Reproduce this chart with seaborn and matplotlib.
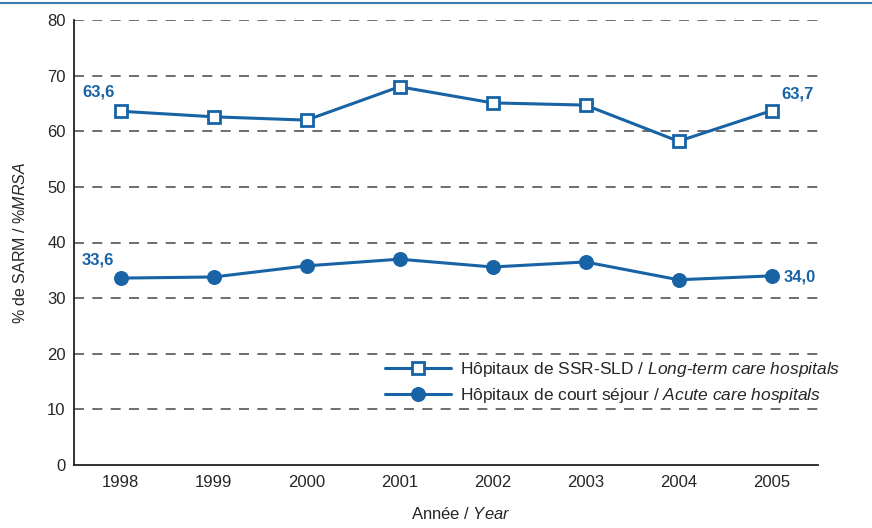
import matplotlib
matplotlib.use("Agg")
import matplotlib.pyplot as plt
import seaborn as sns
import pandas as pd
from matplotlib.lines import Line2D

years = ["1998", "1999", "2000", "2001", "2002", "2003", "2004", "2005"]
long_term = [63.6, 62.6, 62.0, 68.0, 65.1, 64.7, 58.2, 63.7]
acute = [33.6, 33.8, 35.8, 37.0, 35.6, 36.5, 33.3, 34.0]
yticks = [0, 10, 20, 30, 40, 50, 60, 70, 80]

sns.set_theme(style="white")
FONT = ["Liberation Sans", "DejaVu Sans"]
plt.rcParams["font.family"] = FONT
plt.rcParams["mathtext.fontset"] = "custom"
plt.rcParams["mathtext.it"] = "Liberation Sans:italic"
plt.rcParams["mathtext.rm"] = "Liberation Sans"

BLUE = "#1763a6"
FS = 12

fig = plt.figure(figsize=(8.72, 5.28), dpi=100)
ax = fig.add_axes([74/872, 1-465/528, 744/872, 445/528])

df1 = pd.DataFrame({"year": years, "val": long_term})
df2 = pd.DataFrame({"year": years, "val": acute})

sns.lineplot(data=df1, x="year", y="val", ax=ax, color=BLUE, lw=2.2,
             marker="s", markersize=9, markerfacecolor="white",
             markeredgecolor=BLUE, markeredgewidth=2.0,
             label=r"Hôpitaux de SSR-SLD / $\mathit{Long‐term\ care\ hospitals}$")
sns.lineplot(data=df2, x="year", y="val", ax=ax, color=BLUE, lw=2.2,
             marker="o", markersize=10, markerfacecolor=BLUE,
             markeredgecolor=BLUE,
             label=r"Hôpitaux de court séjour / $\mathit{Acute\ care\ hospitals}$")

ax.set_xlim(-0.5, len(years) - 0.5)
ax.set_ylim(0, 80)
ax.set_yticks(yticks)
ax.set_yticklabels([str(t) for t in yticks], fontsize=FS)
ax.set_xticks(range(len(years)))
ax.set_xticklabels(years, fontsize=FS)
ax.set_xticks([i + 0.5 for i in range(len(years) - 1)], minor=True)
ax.tick_params(axis="x", which="major", length=0, pad=7)
ax.tick_params(axis="x", which="minor", direction="in", length=7, width=1, color="#222222")
ax.tick_params(axis="y", length=0, pad=6)

for t in yticks[1:]:
    ax.axhline(t, color="#555555", lw=1.2, ls=(0, (6, 5)), zorder=0)

for s in ["top", "right"]:
    ax.spines[s].set_visible(False)
for s in ["left", "bottom"]:
    ax.spines[s].set_color("#222222")
    ax.spines[s].set_linewidth(1.3)

ax.set_xlabel(r"Année / $\mathit{Year}$", fontsize=FS)
ax.xaxis.set_label_coords(0.52, -0.092)
ax.set_ylabel(r"% de SARM / %$\mathit{MRSA}$", fontsize=FS - 0.5, labelpad=14)

def lab(i, v, dx, dy):
    ax.annotate(f"{v:.1f}".replace(".", ","), (i, v), xytext=(dx, dy),
                textcoords="offset points", color=BLUE, fontsize=FS,
                fontweight="bold", ha="center", va="center")

lab(0, long_term[0], -16, 14)
lab(7, long_term[-1], 19, 12)
lab(0, acute[0], -16, 13)
lab(7, acute[-1], 20, -1)

leg = ax.legend(loc="lower right", bbox_to_anchor=(1.041, 0.116), frameon=False,
                fontsize=FS + 0.5, handlelength=3.8, labelspacing=0.38, handletextpad=0.5,
                borderpad=0)

fig.add_artist(Line2D([0, 1], [1 - 3/528, 1 - 3/528], color="#3a78b0", lw=1.5))

fig.savefig("out.png", dpi=100)
